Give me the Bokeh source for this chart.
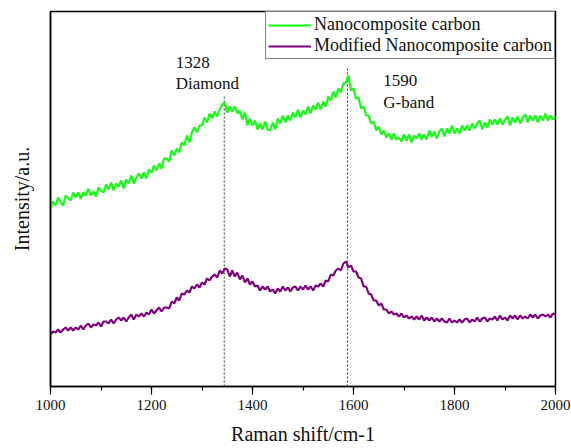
from bokeh.plotting import figure
from bokeh.models import (Legend, LegendItem, SingleIntervalTicker, FixedTicker,
                          Range1d, ColumnDataSource)
from bokeh.core.properties import value
from bokeh.embed import file_html
from bokeh.resources import INLINE

# Raman shift sampling (cm-1), 5 cm-1 step
raman_shift = list(range(1000, 2001, 5))

# Intensity (a.u.)
nanocomposite = [
    177, 185, 181, 189, 184, 181, 191, 188, 186, 194, 189,
    194, 188, 194, 191, 198, 191, 195, 190, 199, 196,
    194, 202, 197, 204, 196, 203, 200, 206, 198, 207,
    203, 211, 203, 209, 213, 208, 214, 208, 217, 214,
    221, 216, 223, 218, 228, 228, 225, 236, 231, 238,
    234, 244, 241, 251, 244, 254, 259, 254, 261, 261,
    269, 264, 273, 268, 275, 270, 277, 282, 284,
    274, 280, 275, 280, 273, 276, 267, 274, 261, 268, 261,
    266, 257, 263, 257, 265, 257,
    256, 264, 257, 268, 263, 271, 264, 271,
    266, 274, 269, 277, 269, 276, 272, 280,
    273, 281, 277, 284, 277, 285,
    280, 290, 286, 295,
    289, 298, 294, 303, 304, 311,
    296, 298, 288, 289, 278, 280, 271, 271,
    263, 265, 256, 260, 252,
    256, 249, 253, 247, 253, 247, 249,
    245, 252, 246, 252, 244, 251, 248, 253,
    247, 252, 247, 256, 250, 255, 248, 255, 258,
    250, 258, 253, 261, 253, 258, 253, 261, 256, 261,
    256, 263, 258, 263, 266, 257, 264, 259, 267, 262, 267,
    262, 268, 262, 267, 270, 261, 269, 264, 270,
    263, 269, 272, 264, 271, 266, 271,
    264, 271, 266, 273, 266, 271, 267, 270,
]

modified = [
    52, 55, 54, 57, 54, 57, 59, 56, 59, 56, 59,
    57, 61, 57, 61, 63, 59, 62, 61, 64, 60, 65, 65, 63,
    67, 63, 67, 69, 66, 69, 65, 69, 72, 67, 72, 70, 73,
    70, 74, 72, 77, 73, 76, 79, 75, 79, 79,
    78, 85, 83, 89, 86, 93, 92,
    96, 94, 100, 98, 102, 99, 104,
    102, 108, 106, 110, 112, 109, 116, 113, 118,
    117, 110, 116, 110, 114, 107, 111,
    104, 108, 102, 105, 100, 101,
    96, 100, 97, 100, 95, 97, 93,
    98, 95, 100, 96, 99, 95, 99, 100,
    96, 100, 97, 101, 97, 100, 96, 101, 100,
    103, 100, 106,
    105, 112, 111, 116,
    118, 116, 123, 125,
    119, 121, 115,
    115, 109, 108, 100,
    100, 93, 92, 86,
    86, 81, 83, 77, 77, 73,
    75, 72, 73, 70, 73, 69, 71, 68,
    70, 67, 70, 67, 71, 66, 69, 66, 69, 65,
    68, 65, 68, 65, 64, 68, 64, 66,
    64, 67, 64, 67, 68, 64, 67, 65, 69, 65, 68, 69,
    65, 68, 67, 70, 66, 71, 67, 69, 66, 71, 68, 71, 67,
    71, 68, 70, 68, 72, 69, 72, 68, 71, 72, 70, 72, 69, 73, 72,
]

series_names = ["Nanocomposite carbon", "Modified Nanocomposite carbon"]

# Peak marker lines
peak_shift = [1344, 1588]
peak_base = [0, 0]
peak_top = [291, 318]

# Annotations
ann_x = [1248, 1248, 1659, 1659]
ann_y = [324, 303, 306, 284]
ann_text = ["1328", "Diamond", "1590", "G-band"]

FONT = "Liberation Serif"

p = figure(width=571, height=448, x_range=Range1d(1000, 2000), y_range=Range1d(0, 375),
           output_backend="svg", toolbar_location=None,
           min_border_left=50, min_border_right=16, min_border_top=11, min_border_bottom=62)
p.grid.visible = False
p.background_fill_color = "white"
p.border_fill_color = "white"
p.outline_line_color = "black"
p.outline_line_width = 1.5

p.segment(x0="x", y0="y0", x1="x", y1="y1",
          source=ColumnDataSource(dict(x=peak_shift, y0=peak_base, y1=peak_top)),
          line_color="#333333", line_width=1, line_dash="2 2")

r1 = p.line(raman_shift, nanocomposite, line_color="#14FF14", line_width=2.2)
r2 = p.line(raman_shift, modified, line_color="#800080", line_width=2.2)

p.text(x=ann_x, y=ann_y, text=ann_text, text_font=value(FONT), text_font_size="17px",
       text_baseline="alphabetic", text_align="left", text_color="#111111")

xa = p.xaxis[0]
xa.ticker = SingleIntervalTicker(interval=200, num_minor_ticks=2)
xa.major_tick_in = 0
xa.major_tick_out = 8
xa.minor_tick_in = 0
xa.minor_tick_out = 4
xa.axis_line_width = 1.5
xa.major_tick_line_width = 1.2
xa.minor_tick_line_width = 1.2
xa.major_label_text_font = FONT
xa.major_label_text_font_size = "15px"
xa.major_label_text_color = "#111111"
xa.axis_label = "Raman shift/cm-1"
xa.axis_label_text_font = FONT
xa.axis_label_text_font_size = "20px"
xa.axis_label_text_font_style = "normal"
xa.axis_label_text_color = "#111111"
xa.axis_label_standoff = 10

ya = p.yaxis[0]
ya.ticker = FixedTicker(ticks=[])
ya.major_tick_out = 0
ya.major_tick_in = 0
ya.minor_tick_out = 0
ya.minor_tick_in = 0
ya.axis_line_width = 1.5
ya.axis_label = "Intensity/a.u."
ya.axis_label_text_font = FONT
ya.axis_label_text_font_size = "20px"
ya.axis_label_text_font_style = "normal"
ya.axis_label_text_color = "#111111"
ya.axis_label_standoff = 18

legend = Legend(items=[LegendItem(label=series_names[0], renderers=[r1]),
                       LegendItem(label=series_names[1], renderers=[r2])],
                location="top_right", margin=0, padding=2, spacing=0,
                glyph_width=43, glyph_height=20, label_height=20, label_standoff=3,
                label_text_font=FONT, label_text_font_size="18px",
                label_text_color="#111111",
                border_line_color="black", border_line_width=1,
                background_fill_color="white", background_fill_alpha=1)
p.add_layout(legend)

open("out.html", "w").write(file_html(p, INLINE))
